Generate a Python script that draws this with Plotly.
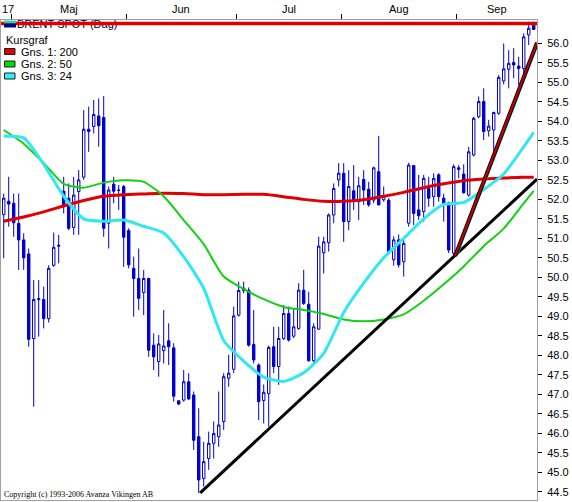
import pandas as pd
import plotly.graph_objects as go

# ---------------- data ----------------
dates = pd.bdate_range("2006-04-27", "2006-09-22")  # 107 trading days

open_ = [51.61, 51.95, 51.90, 51.38, 50.96, 50.60, 48.43, 49.43, 49.43, 48.94,
         50.31, 50.80, 52.21, 52.03, 51.28, 52.20, 52.57, 53.80, 53.87, 54.14,
         54.10, 51.39, 52.39, 52.24, 52.33, 51.20, 50.23, 49.97, 49.61, 49.97,
         48.26, 47.84, 48.12, 48.37, 48.19, 46.83, 46.85, 47.32, 46.98, 45.91,
         44.84, 45.35, 45.74, 45.91, 46.30, 47.41, 47.64, 49.03, 49.72, 49.67,
         48.28, 47.75, 46.84, 47.02, 48.22, 47.71, 48.43, 49.07, 48.49, 48.69,
         49.67, 49.31, 47.86, 48.67, 50.63, 50.89, 51.60, 52.50, 52.67, 51.43,
         52.22, 51.94, 52.51, 52.26, 51.98, 52.71, 51.99, 51.98, 50.45, 50.96,
         50.40, 51.39, 52.87, 51.73, 51.69, 52.28, 52.07, 52.63, 52.03, 51.91,
         50.62, 52.81, 52.65, 52.11, 53.14, 54.12, 54.51, 53.76, 53.78, 54.21,
         55.04, 55.34, 55.51, 55.42, 55.36, 56.22, 56.47]
high = [52.15, 52.58, 52.15, 52.15, 51.13, 50.74, 49.93, 49.93, 49.76, 50.31,
        51.15, 51.09, 52.58, 52.41, 52.58, 52.75, 54.29, 54.38, 54.55, 54.59,
        54.65, 52.33, 52.58, 52.37, 52.37, 51.26, 50.53, 50.74, 50.19, 49.99,
        48.56, 48.52, 49.16, 48.82, 48.31, 46.85, 47.62, 47.54, 47.07, 46.64,
        45.78, 46.04, 46.30, 47.07, 47.54, 48.01, 49.25, 49.89, 49.89, 49.74,
        49.16, 47.79, 47.25, 48.25, 48.73, 48.73, 49.29, 49.25, 49.20, 49.85,
        50.19, 49.63, 48.82, 51.04, 51.04, 51.64, 52.41, 52.93, 52.93, 52.75,
        52.88, 52.58, 52.75, 52.45, 52.84, 53.63, 52.33, 52.03, 51.05, 51.10,
        50.96, 52.94, 52.88, 52.63, 52.63, 52.58, 52.67, 52.67, 52.15, 51.94,
        52.90, 52.88, 52.90, 53.35, 54.12, 54.64, 54.85, 54.04, 54.25, 55.19,
        56.00, 55.83, 55.88, 55.66, 56.26, 56.56, 56.56]
low = [50.49, 51.30, 51.04, 50.19, 50.19, 48.22, 46.68, 48.48, 48.69, 48.84,
       50.27, 50.36, 51.64, 51.21, 51.09, 51.09, 52.50, 53.22, 53.69, 53.35,
       51.04, 50.74, 51.90, 51.73, 50.27, 50.23, 48.99, 49.16, 49.03, 47.96,
       47.62, 47.45, 47.79, 47.75, 46.81, 46.72, 46.81, 46.85, 45.57, 44.46,
       44.63, 45.06, 45.35, 45.65, 46.08, 47.19, 47.54, 48.99, 49.59, 48.22,
       47.79, 46.34, 46.25, 46.17, 47.54, 47.24, 48.39, 48.35, 48.44, 48.65,
       49.29, 47.84, 47.79, 48.65, 50.10, 50.66, 51.39, 52.33, 50.91, 51.21,
       51.73, 51.47, 51.86, 51.81, 51.90, 51.84, 51.94, 50.61, 50.30, 50.25,
       50.02, 51.30, 51.34, 51.47, 51.43, 51.81, 51.81, 51.94, 51.43, 50.62,
       50.55, 52.54, 52.15, 52.07, 53.10, 54.08, 53.52, 53.61, 53.10, 54.17,
       54.95, 54.85, 55.11, 54.94, 55.11, 55.96, 56.35]
close = [52.03, 51.88, 51.40, 50.96, 50.50, 48.41, 49.43, 49.45, 48.94, 50.23,
         50.77, 50.82, 51.85, 51.26, 52.11, 52.50, 53.80, 53.74, 54.18, 53.89,
         51.26, 52.24, 52.21, 52.23, 51.03, 50.32, 49.97, 49.46, 49.97, 48.13,
         47.96, 48.29, 48.24, 48.22, 46.95, 46.75, 47.32, 46.88, 45.82, 44.80,
         45.27, 45.74, 45.99, 46.21, 47.45, 47.54, 49.01, 49.66, 49.66, 48.26,
         47.88, 46.81, 47.05, 48.20, 47.71, 48.43, 49.07, 48.39, 48.73, 49.67,
         49.33, 47.86, 48.73, 50.80, 50.91, 51.60, 52.28, 52.67, 51.43, 52.33,
         51.97, 52.35, 52.24, 51.86, 52.81, 51.86, 52.08, 50.66, 50.96, 50.32,
         50.87, 52.88, 51.64, 51.58, 52.54, 52.03, 52.54, 52.07, 51.90, 50.70,
         52.84, 52.77, 52.17, 53.22, 54.08, 54.51, 53.74, 53.88, 54.23, 55.13,
         55.35, 55.49, 55.45, 55.36, 56.17, 56.39, 56.36]

ma_idx = [0, 4, 8, 12, 16, 20, 24, 28, 32, 36, 40, 44, 48, 52, 56, 60, 64, 68,
          72, 76, 80, 84, 88, 92, 96, 100, 104, 106]
ma200 = [51.44, 51.55, 51.68, 51.83, 51.97, 52.08, 52.12, 52.14, 52.16, 52.15,
         52.12, 52.12, 52.13, 52.13, 52.07, 52.00, 51.95, 51.95, 51.99, 52.08,
         52.18, 52.30, 52.40, 52.48, 52.52, 52.55, 52.57, 52.57]
ma50 = [53.78, 53.43, 52.93, 52.40, 52.30, 52.43, 52.49, 52.45, 52.08, 51.47,
        50.85, 50.02, 49.70, 49.44, 49.24, 49.16, 49.06, 48.92, 48.87, 48.92,
        49.05, 49.40, 49.82, 50.28, 50.80, 51.25, 51.90, 52.22]
ma24 = [53.62, 53.58, 52.90, 52.08, 51.50, 51.44, 51.47, 51.31, 51.14, 50.53,
        49.72, 48.38, 47.85, 47.44, 47.33, 47.55, 48.05, 49.10, 49.85, 50.50,
        51.00, 51.50, 51.87, 51.92, 52.25, 52.65, 53.35, 53.72]

trend_long_x = [39.3, 106.66]
trend_long_y = [44.47, 52.52]
trend_steep_x = [90.3, 106.66]
trend_steep_y = [50.55, 56.02]
top_level = 56.51

month_labels = ["17", "Maj", "Jun", "Jul", "Aug", "Sep"]
y_tick_vals = [44.5, 45.0, 45.5, 46.0, 46.5, 47.0, 47.5, 48.0, 48.5, 49.0,
               49.5, 50.0, 50.5, 51.0, 51.5, 52.0, 52.5, 53.0, 53.5, 54.0,
               54.5, 55.0, 55.5, 56.0]
legend_labels = ["BRENT SPOT (Dag)", "Kursgraf", "Gns. 1: 200", "Gns. 2: 50", "Gns. 3: 24"]

# ---------------- figure ----------------
x = list(range(len(dates)))
X0, X1 = -0.54, 106.66
Y0, Y1 = 44.286, 56.603

BLUE = "#0000cc"
RED = "#e00000"
GREEN = "#12d012"
CYAN = "#30e8f0"
FONT = "Liberation Sans"

fig = go.Figure()
fig.add_trace(go.Candlestick(
    x=x, open=open_, high=high, low=low, close=close,
    increasing=dict(line=dict(color=BLUE, width=1), fillcolor="white"),
    decreasing=dict(line=dict(color=BLUE, width=1), fillcolor=BLUE),
    whiskerwidth=0, hoverinfo="skip", showlegend=False))

fig.add_trace(go.Scatter(x=ma_idx, y=ma200, mode="lines",
                         line=dict(color=RED, width=3, shape="spline", smoothing=0.6)))
fig.add_trace(go.Scatter(x=ma_idx, y=ma50, mode="lines",
                         line=dict(color=GREEN, width=2, shape="spline", smoothing=0.6)))
fig.add_trace(go.Scatter(x=ma_idx, y=ma24, mode="lines",
                         line=dict(color=CYAN, width=3, shape="spline", smoothing=0.6)))

fig.add_trace(go.Scatter(x=trend_long_x, y=trend_long_y, mode="lines",
                         line=dict(color="black", width=3)))
fig.add_trace(go.Scatter(x=[v + 0.3 for v in trend_steep_x], y=trend_steep_y, mode="lines",
                         line=dict(color=CYAN, width=2)))
fig.add_trace(go.Scatter(x=trend_steep_x, y=trend_steep_y, mode="lines",
                         line=dict(color="black", width=4)))
fig.add_trace(go.Scatter(x=trend_steep_x, y=trend_steep_y, mode="lines",
                         line=dict(color="#c00000", width=2.2)))


def px_x(p):
    return (p - 1) / 536.0


def px_y(p):
    return (500 - p) / 480.0


def idx_of_px(p):
    return X0 + (X1 - X0) * px_x(p)


def val_of_py(p):
    return Y0 + (Y1 - Y0) * px_y(p)


# legend title text drawn as a trace so the top line can cross it
fig.add_trace(go.Scatter(x=[idx_of_px(17)], y=[val_of_py(25)], mode="text",
                         text=[legend_labels[0]], textposition="middle right",
                         textfont=dict(family=FONT, size=11, color="#000033")))

fig.add_trace(go.Scatter(x=[X0, X1], y=[top_level, top_level], mode="lines",
                         line=dict(color=RED, width=3.5)))

# month boundaries and labels
bounds = [i - 0.5 for i in range(1, len(dates)) if dates[i].month != dates[i - 1].month]
edges = [X0] + bounds + [X1]
mids = [(edges[k] + edges[k + 1]) / 2 for k in range(len(edges) - 1)]

annotations = []
for k, lab in enumerate(month_labels):
    annotations.append(dict(x=mids[k], y=1, xref="x", yref="paper", text=lab,
                            showarrow=False, yanchor="middle", yshift=11,
                            xanchor="left" if k == 0 else "center",
                            xshift=-6 if k == 0 else 0,
                            font=dict(family=FONT, size=11, color="black")))

# legend entries
annotations.append(dict(x=px_x(4), y=px_y(39.5), xref="paper", yref="paper",
                        text=legend_labels[1], showarrow=False, xanchor="left",
                        yanchor="middle", font=dict(family=FONT, size=11, color="black")))
for k, yy in enumerate([51.5, 64, 76]):
    annotations.append(dict(x=px_x(19), y=px_y(yy), xref="paper", yref="paper",
                            text=legend_labels[2 + k], showarrow=False, xanchor="left",
                            yanchor="middle", font=dict(family=FONT, size=11, color="black")))

annotations.append(dict(x=px_x(2), y=px_y(494.5), xref="paper", yref="paper",
                        text="Copyright (c) 1993-2006 Avanza Vikingen AB", showarrow=False,
                        xanchor="left", yanchor="middle",
                        font=dict(family="Liberation Serif", size=8, color="black")))

shapes = [
    dict(type="rect", xref="paper", yref="paper", x0=px_x(4), x1=px_x(16),
         y0=px_y(23.5), y1=px_y(20.5), fillcolor="#20d8a8", line=dict(width=0), layer="above"),
    dict(type="rect", xref="paper", yref="paper", x0=px_x(4), x1=px_x(16),
         y0=px_y(27.5), y1=px_y(23.5), fillcolor="#000080", line=dict(width=0), layer="above"),
]
for col, yy in [(RED, 51.5), ("#00e000", 64), ("#30f0f0", 76)]:
    shapes.append(dict(type="rect", xref="paper", yref="paper", x0=px_x(4.5), x1=px_x(15),
                       y0=px_y(yy + 3), y1=px_y(yy - 3), fillcolor=col,
                       line=dict(color="#202020", width=1), layer="above"))

fig.update_layout(
    width=572, height=502,
    margin=dict(l=1, r=35, t=20, b=2, autoexpand=False),
    paper_bgcolor="white", plot_bgcolor="white",
    showlegend=False, boxgap=0.3,
    annotations=annotations, shapes=shapes,
    xaxis=dict(range=[X0, X1], side="top", tickvals=bounds, ticktext=[""] * len(bounds),
               ticks="outside", ticklen=5, tickcolor="black", showgrid=False, zeroline=False,
               showline=True, linecolor="#a0a0a0", linewidth=1, mirror=True,
               rangeslider=dict(visible=False), fixedrange=True, automargin=False),
    yaxis=dict(range=[Y0, Y1], side="right", tickvals=y_tick_vals,
               ticktext=[f"{v:.1f}" for v in y_tick_vals],
               ticks="outside", ticklen=4, tickcolor="black", showgrid=False, zeroline=False,
               showline=True, linecolor="#a0a0a0", linewidth=1, mirror=True,
               automargin=False, ticklabelstandoff=3,
               tickfont=dict(family=FONT, size=11, color="black"), fixedrange=True),
)

fig.write_html("out.html", config={"displayModeBar": False},
               post_script="document.body.style.margin='0px';document.body.style.padding='0px';")
